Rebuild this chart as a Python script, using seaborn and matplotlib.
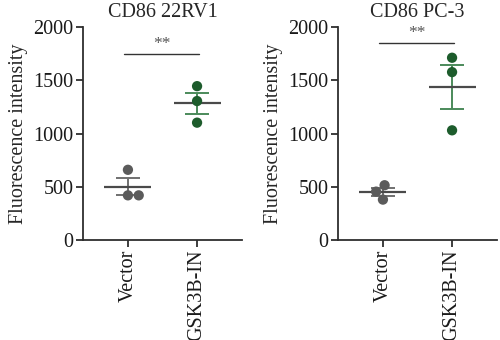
import numpy as np
import pandas as pd
import matplotlib
matplotlib.use("Agg")
import matplotlib.pyplot as plt
import seaborn as sns

# Measured CD86 fluorescence intensity, three replicates per group
groups = ["Vector", "GSK3B-IN"]
vector_22rv1 = [660, 420, 420]
gsk_22rv1 = [1446, 1306, 1103]
vector_pc3 = [515, 455, 380]
gsk_pc3 = [1713, 1578, 1031]
titles = ["CD86 22RV1", "CD86 PC-3"]
sig_labels = ["**", "**"]
sig_heights = [1745, 1855]
yticks = [0, 500, 1000, 1500, 2000]

sns.set_theme(style="ticks")
plt.rcParams["font.family"] = ["Liberation Serif", "DejaVu Serif"]

point_colors = {"Vector": "#5b5b5b", "GSK3B-IN": "#1d5c2c"}
bar_colors = {"Vector": "#707070", "GSK3B-IN": "#4b8a5a"}
mean_color = "#4a4a4a"
axis_color = "#2e2e2e"

fig = plt.figure(figsize=(5.0, 3.4), dpi=100)
ax_pos = [[0.166, 0.294, 0.318, 0.626], [0.676, 0.294, 0.318, 0.626]]

panels = [(vector_22rv1, gsk_22rv1), (vector_pc3, gsk_pc3)]
for i, (vec, gsk) in enumerate(panels):
    ax = fig.add_axes(ax_pos[i])
    df = pd.DataFrame({
        "group": [groups[0]] * len(vec) + [groups[1]] * len(gsk),
        "value": vec + gsk,
    })

    # mean line and SEM error bars computed from the replicates
    for j, g in enumerate(groups):
        vals = np.asarray(df.loc[df["group"] == g, "value"], dtype=float)
        m = vals.mean()
        sem = vals.std(ddof=1) / np.sqrt(len(vals))
        ax.errorbar(j, m, yerr=sem, fmt="none", ecolor=bar_colors[g],
                    elinewidth=1.4, capsize=8.5, capthick=1.4, zorder=2)
        ax.hlines(m, j - 0.34, j + 0.34, color=mean_color, lw=1.6, zorder=2)

    sns.swarmplot(data=df, x="group", y="value", hue="group",
                  palette=point_colors, order=groups, size=7.4,
                  linewidth=0, legend=False, ax=ax, zorder=3)

    # significance bracket
    h = sig_heights[i]
    ax.plot([-0.06, 1.03], [h, h], color="#333333", lw=1.0, clip_on=False)
    ax.text(0.485, h + 20, sig_labels[i], ha="center", va="bottom",
            fontsize=12.5, color="#555555")

    ax.set_xlim(-0.65, 1.65)
    ax.set_ylim(0, 2000)
    ax.set_yticks(yticks)
    ax.set_yticklabels([str(t) for t in yticks], fontsize=14.5)
    ax.set_xticks([0, 1])
    ax.set_xticklabels(groups, rotation=90, fontsize=14.5)
    ax.set_xlabel("")
    ax.set_ylabel("Fluorescence intensity", fontsize=14.5, labelpad=4)
    ax.set_title(titles[i], fontsize=14.5, pad=7)
    for s in ["top", "right"]:
        ax.spines[s].set_visible(False)
    for s in ["left", "bottom"]:
        ax.spines[s].set_color(axis_color)
        ax.spines[s].set_linewidth(1.3)
    ax.tick_params(axis="both", colors=axis_color, width=1.3, length=5,
                   labelcolor="#1a1a1a", pad=2)

fig.savefig("out.png", dpi=100)
